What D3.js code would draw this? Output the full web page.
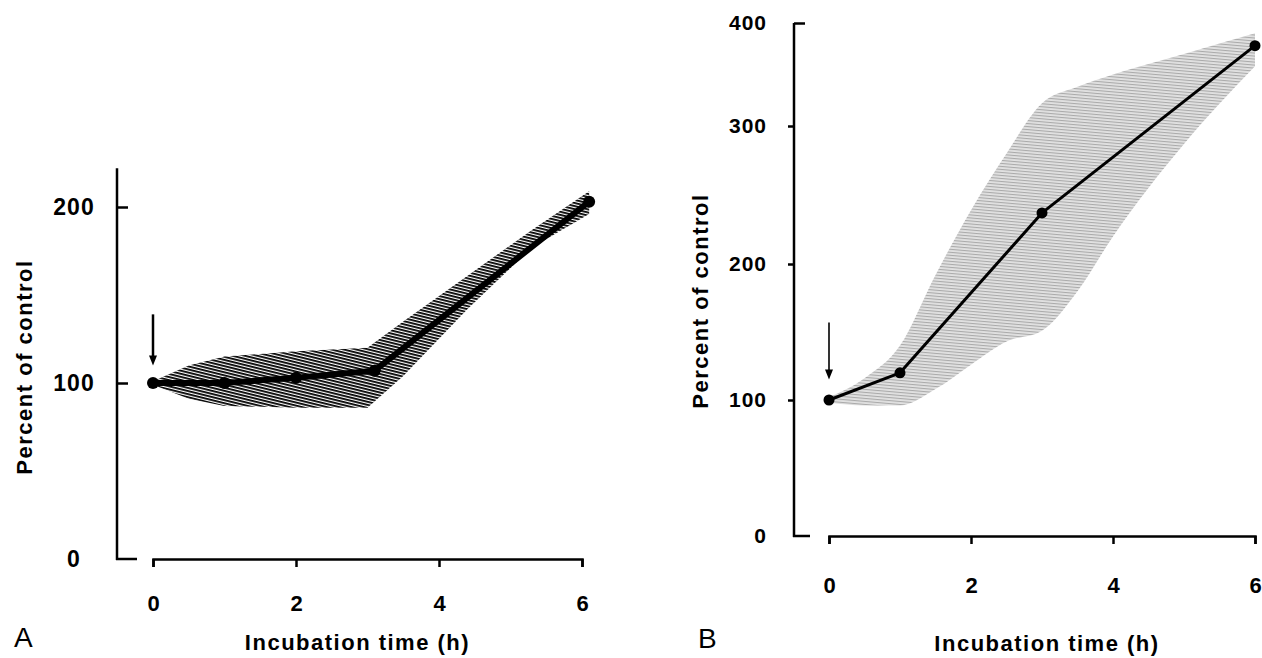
<!DOCTYPE html>
<html>
<head>
<meta charset="utf-8">
<script src="https://cdnjs.cloudflare.com/ajax/libs/d3/7.8.5/d3.min.js"></script>
<style>
  body { margin: 0; background: #fff; }
  text { font-family: "Liberation Sans", Arial, sans-serif; }
</style>
</head>
<body>
<div id="chart"></div>
<script>
var svgWidth = 1262;
var svgHeight = 658;

// panel A data (percent of control)
var timesA = [0, 1, 2, 3.1, 6.1];
var meanA = [100, 100, 103, 107, 203];
var bandTimesA = [0, 0.5, 1, 2, 3, 3.5, 4.4, 5.3, 6.1];
var upperA = [101, 110, 115, 118, 120, 135, 161, 187, 209];
var lowerA = [99, 91, 87, 86, 86, 104, 142, 177, 196];

// panel B data
var timesB = [0, 1, 3, 6];
var meanB = [100, 120, 237, 378];
var bandTimesB = [0, 0.5, 1, 1.5, 2, 2.5, 3, 3.5, 4, 5, 6];
var upperB = [102, 116, 140, 192, 239, 280, 322, 338, 350, 370, 390];
var lowerB = [98, 96, 96, 108, 126, 143, 151, 180, 220, 287, 358];

var xTicks = [0, 2, 4, 6];
var yTicksA = [0, 100, 200];
var yTicksB = [0, 100, 200, 300, 400];
// arrows mark the addition at t=0 : [from, to] in percent
var arrowA = [139, 110];
var arrowB = [157, 115];

var svg = d3.select("#chart")
  .append("svg")
  .attr("width", svgWidth)
  .attr("height", svgHeight);

var defs = svg.append("defs");

// dark hatching for A
var patA = defs.append("pattern")
  .attr("id", "hatchA")
  .attr("patternUnits", "userSpaceOnUse")
  .attr("width", 12)
  .attr("height", 3)
  .attr("patternTransform", "rotate(14)");
patA.append("rect").attr("width", 12).attr("height", 1.8).attr("fill", "#000");

// light grey hatching for B
var patB = defs.append("pattern")
  .attr("id", "hatchB")
  .attr("patternUnits", "userSpaceOnUse")
  .attr("width", 12)
  .attr("height", 3)
  .attr("patternTransform", "rotate(5)");
patB.append("rect").attr("width", 12).attr("height", 3).attr("fill", "#e2e2e2");
patB.append("rect").attr("width", 12).attr("height", 1.1).attr("fill", "#aaaaaa");

function drawPanel(opt) {
  var g = svg.append("g");
  var x = opt.x, y = opt.y;

  var bandData = opt.bandTimes.map(function(t, i) {
    return { t: t, lo: opt.lower[i], hi: opt.upper[i] };
  });
  var lineData = opt.times.map(function(t, i) {
    return { t: t, v: opt.mean[i] };
  });

  var area = d3.area()
    .curve(opt.bandCurve)
    .x(d => x(d.t))
    .y0(d => y(d.lo))
    .y1(d => y(d.hi));

  g.append("path")
    .datum(bandData)
    .attr("d", area)
    .attr("fill", opt.fill);

  var line = d3.line()
    .curve(d3.curveLinear)
    .x(d => x(d.t))
    .y(d => y(d.v));

  g.append("path")
    .datum(lineData)
    .attr("d", line)
    .attr("fill", "none")
    .attr("stroke", "#000")
    .attr("stroke-width", opt.lineWidth)
    .attr("stroke-linejoin", "round");

  g.selectAll("circle.pt")
    .data(lineData)
    .enter()
    .append("circle")
    .attr("class", "pt")
    .attr("cx", d => x(d.t))
    .attr("cy", d => y(d.v))
    .attr("r", opt.dotR)
    .attr("fill", "#000");

  // arrow
  var ax = x(0);
  g.append("line")
    .attr("x1", ax).attr("x2", ax)
    .attr("y1", y(opt.arrow[0]))
    .attr("y2", y(opt.arrow[1]) - 8)
    .attr("stroke", "#000")
    .attr("stroke-width", opt.arrowWidth);
  g.append("path")
    .attr("d", "M" + (ax - 4) + "," + (y(opt.arrow[1]) - 10) +
      "L" + (ax + 4) + "," + (y(opt.arrow[1]) - 10) +
      "L" + ax + "," + y(opt.arrow[1]) + "Z")
    .attr("fill", "#000");

  // x axis
  var xAxis = g.append("g")
    .attr("transform", `translate(0, ${y(0)})`)
    .call(d3.axisBottom(x).tickValues(xTicks).tickFormat(d3.format("d")).tickSize(8).tickSizeOuter(8));
  xAxis.select(".domain").attr("stroke-width", 2.5);
  xAxis.selectAll(".tick line").attr("stroke-width", 2.5);
  xAxis.selectAll("text")
    .attr("y", opt.xLabelY)
    .attr("dy", 0)
    .attr("font-size", opt.xTickSize + "px")
    .attr("font-weight", "bold")
    .attr("font-family", "Liberation Sans, Arial, sans-serif");

  // y axis line + little stub at the bottom
  g.append("line")
    .attr("x1", opt.yAxisX).attr("x2", opt.yAxisX)
    .attr("y1", y(opt.yTop)).attr("y2", y(0) + 1)
    .attr("stroke", "#000").attr("stroke-width", 2.5);
  g.append("line")
    .attr("x1", opt.yAxisX - 1).attr("x2", opt.yAxisX + opt.stub)
    .attr("y1", y(0)).attr("y2", y(0))
    .attr("stroke", "#000").attr("stroke-width", 2.5);

  var yAxis = g.append("g")
    .attr("transform", `translate(${opt.yAxisX}, 0)`)
    .call(d3.axisLeft(y).tickValues(opt.yTicks).tickSize(opt.yTickLen));
  yAxis.select(".domain").remove();
  yAxis.selectAll(".tick line").attr("stroke-width", 2.5);
  yAxis.selectAll(".tick").filter(d => d === 0).select("line").remove();
  if (opt.topTickRight) {
    yAxis.selectAll(".tick").filter(d => d === 400).select("line").attr("x2", 11);
  }
  yAxis.selectAll("text")
    .attr("x", opt.yLabelX)
    .attr("text-anchor", opt.yLabelAnchor)
    .attr("font-size", opt.yTickSize + "px")
    .attr("font-weight", "bold")
    .attr("letter-spacing", "1px")
    .attr("font-family", "Liberation Sans, Arial, sans-serif");

  // titles
  g.append("text")
    .attr("x", (x(0) + x(6)) / 2 - opt.titleShift)
    .attr("y", opt.xTitleY)
    .attr("text-anchor", "middle")
    .attr("font-size", "22px")
    .attr("font-weight", "bold")
    .attr("letter-spacing", "1.5px")
    .text("Incubation time (h)");

  g.append("text")
    .attr("transform", `translate(${opt.yTitleX}, ${opt.yTitleY}) rotate(-90)`)
    .attr("text-anchor", "middle")
    .attr("font-size", "22px")
    .attr("font-weight", "bold")
    .attr("letter-spacing", "1.5px")
    .text("Percent of control");

  g.append("text")
    .attr("x", opt.letterX)
    .attr("y", opt.letterY)
    .attr("font-size", "28px")
    .text(opt.letter);
}

var xA = d3.scaleLinear().domain([0, 6]).range([153, 582]);
var yA = d3.scaleLinear().domain([0, 200]).range([559, 207]);

drawPanel({
  x: xA, y: yA,
  times: timesA, mean: meanA,
  bandTimes: bandTimesA, upper: upperA, lower: lowerA,
  bandCurve: d3.curveLinear, fill: "url(#hatchA)",
  lineWidth: 6, dotR: 6, arrow: arrowA, arrowWidth: 2.5,
  xLabelY: 52, xTickSize: 22,
  yAxisX: 117, yTop: 222, stub: 20,
  yTicks: yTicksA, yTickLen: -11, yLabelX: -43, yLabelAnchor: "middle", yTickSize: 23,
  topTickRight: false,
  titleShift: 10, xTitleY: 650,
  yTitleX: 32, yTitleY: 367,
  letter: "A", letterX: 14, letterY: 647
});

// B axis is drawn unevenly in the original: 400 sits closer to 300
var xB = d3.scaleLinear().domain([0, 6]).range([829, 1255]);
var yB = d3.scaleLinear().domain([0, 100, 200, 300, 400]).range([536, 400, 264, 126, 23]);

drawPanel({
  x: xB, y: yB,
  times: timesB, mean: meanB,
  bandTimes: bandTimesB, upper: upperB, lower: lowerB,
  bandCurve: d3.curveMonotoneX, fill: "url(#hatchB)",
  lineWidth: 3, dotR: 5.5, arrow: arrowB, arrowWidth: 1.6,
  xLabelY: 57, xTickSize: 22,
  yAxisX: 794, yTop: 400, stub: 16,
  yTicks: yTicksB, yTickLen: 6, yLabelX: -27, yLabelAnchor: "end", yTickSize: 21,
  topTickRight: true,
  titleShift: -5, xTitleY: 651,
  yTitleX: 708, yTitleY: 301,
  letter: "B", letterX: 698, letterY: 648
});
</script>
</body>
</html>
